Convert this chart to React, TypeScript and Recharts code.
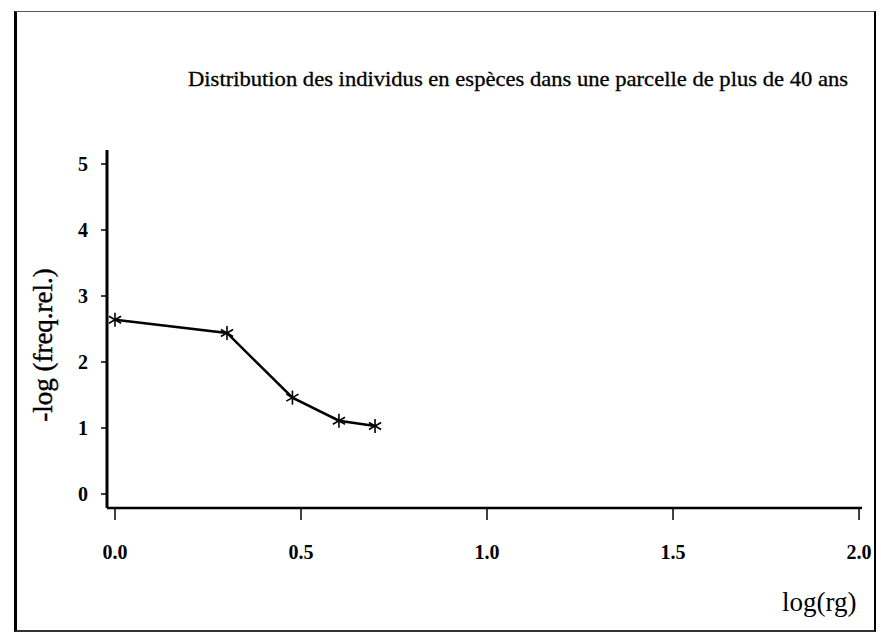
import React from "react";
import {
  LineChart,
  Line,
  XAxis,
  YAxis,
  Label,
  Customized,
} from "recharts";

// log(rang) et -log(fréquence relative)
const logRank = [0, 0.301, 0.477, 0.602, 0.699];
const negLogFreq = [2.64, 2.44, 1.46, 1.11, 1.03];

const xTicks = [0, 0.5, 1, 1.5, 2];
const yTicks = [0, 1, 2, 3, 4, 5];

const title =
  "Distribution des individus en espèces dans une parcelle de plus de 40 ans";

const serif = "'Liberation Serif', 'Times New Roman', serif";

const data = logRank.map((x, i) => ({ x, y: negLogFreq[i] }));

// marqueur en étoile (*)
const StarDot = (props: any) => {
  const { cx, cy } = props;
  if (cx == null || cy == null) return null;
  const r = 7;
  const dx = r * 0.87;
  const dy = r * 0.5;
  return (
    <g stroke="#000" strokeWidth={1.6}>
      <line x1={cx} y1={cy - r} x2={cx} y2={cy + r} />
      <line x1={cx - dx} y1={cy - dy} x2={cx + dx} y2={cy + dy} />
      <line x1={cx - dx} y1={cy + dy} x2={cx + dx} y2={cy - dy} />
    </g>
  );
};

const Title = () => (
  <text
    x={188}
    y={86}
    fontFamily={serif}
    fontSize={21}
    fill="#000"
    stroke="#000"
    strokeWidth={0.3}
    textLength={660}
    lengthAdjust="spacingAndGlyphs"
  >
    {title}
  </text>
);

const XTick = (props: any) => {
  const { x, y, payload } = props;
  return (
    <text
      x={x}
      y={y + 37}
      textAnchor="middle"
      fontFamily={serif}
      fontWeight="bold"
      fontSize={20}
      fill="#000"
    >
      {Number(payload.value).toFixed(1)}
    </text>
  );
};

const YTick = (props: any) => {
  const { x, y, payload } = props;
  return (
    <text
      x={x - 11}
      y={y + 7}
      textAnchor="end"
      fontFamily={serif}
      fontWeight="bold"
      fontSize={20}
      fill="#000"
    >
      {payload.value}
    </text>
  );
};

export default function App() {
  return (
    <div
      style={{
        position: "absolute",
        left: 0,
        top: 0,
        width: 881,
        height: 634,
        background: "#fff",
      }}
    >
      <div
        style={{
          position: "absolute",
          left: 14,
          top: 11,
          width: 862,
          height: 621,
          boxSizing: "border-box",
          borderLeft: "3px solid #000",
          borderTop: "1px solid #555",
          borderRight: "2px solid #000",
          borderBottom: "2px solid #333",
        }}
      />
      <div style={{ position: "absolute", left: 0, top: 0 }}>
        <LineChart
          width={881}
          height={634}
          data={data}
          margin={{ top: 150, right: 19, bottom: 0, left: 0 }}
        >
          <XAxis
            dataKey="x"
            type="number"
            domain={[-0.0215, 2.008]}
            allowDataOverflow
            ticks={xTicks}
            height={126}
            tickSize={12}
            tick={<XTick />}
            axisLine={{ stroke: "#000", strokeWidth: 2.5 }}
            tickLine={{ stroke: "#000", strokeWidth: 1.5 }}
          >
            <Label
              content={() => (
                <text
                  x={782}
                  y={611}
                  fontFamily={serif}
                  fontSize={27}
                  fill="#000"
                >
                  log(rg)
                </text>
              )}
            />
          </XAxis>
          <YAxis
            type="number"
            domain={[-0.212, 5.212]}
            allowDataOverflow
            ticks={yTicks}
            width={107}
            tickSize={6}
            tick={<YTick />}
            axisLine={{ stroke: "#000", strokeWidth: 3 }}
            tickLine={{ stroke: "#000", strokeWidth: 1.5 }}
          >
            <Label
              content={() => (
                <text
                  x={52}
                  y={345}
                  transform="rotate(-90 52 345)"
                  textAnchor="middle"
                  fontFamily={serif}
                  fontSize={27}
                  fill="#000"
                  stroke="#000"
                  strokeWidth={0.4}
                >
                  -log (freq.rel.)
                </text>
              )}
            />
          </YAxis>
          <Customized component={Title} />
          <Line
            type="linear"
            dataKey="y"
            stroke="#000"
            strokeWidth={2.5}
            dot={<StarDot />}
            activeDot={false}
            isAnimationActive={false}
          />
        </LineChart>
      </div>
    </div>
  );
}
